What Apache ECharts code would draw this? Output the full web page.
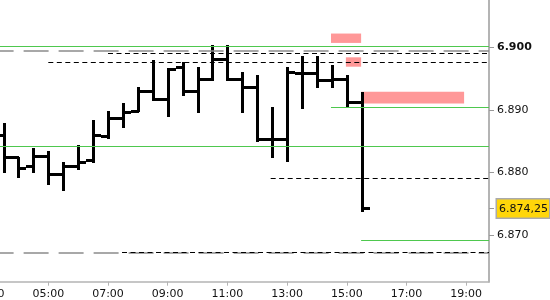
<!DOCTYPE html>
<html><head><meta charset="utf-8">
<script src="https://cdn.jsdelivr.net/npm/echarts@6/dist/echarts.min.js"></script>
<style>html,body{margin:0;padding:0;background:#fff}#c{width:550px;height:300px}</style>
</head><body><div id="c"></div><script>
// 30-minute OHLC bars (time in hours)
const times=[3.5,4,4.5,5,5.5,6,6.5,7,7.5,8,8.5,9,9.5,10,10.5,11,11.5,12,12.5,13,13.5,14,14.5,15,15.5];
const opens=[6886.0,6882.4,6881.1,6882.7,6879.8,6881.0,6882.0,6885.8,6888.7,6889.9,6893.0,6891.8,6896.9,6893.0,6895.0,6898.1,6895.0,6893.7,6885.3,6885.3,6895.9,6895.9,6894.7,6895.0,6891.3];
const highs=[6887.9,6882.5,6883.9,6883.4,6881.6,6884.4,6888.4,6889.8,6891.1,6893.6,6898.0,6896.7,6897.7,6896.8,6900.4,6900.4,6896.0,6895.6,6890.4,6896.9,6898.6,6898.6,6897.2,6895.6,6892.9];
const lows=[6880.1,6879.3,6880.0,6878.2,6877.2,6880.5,6881.7,6885.5,6887.2,6889.8,6891.6,6889.1,6892.3,6889.7,6894.8,6894.8,6889.6,6885.0,6882.5,6881.9,6890.3,6893.6,6893.6,6890.5,6873.9];
const closes=[6882.4,6880.7,6882.7,6879.8,6881.1,6881.7,6886.0,6888.7,6889.7,6893.0,6891.8,6896.6,6893.0,6894.9,6898.1,6895.0,6893.7,6885.3,6885.3,6896.1,6895.9,6894.7,6895.0,6891.3,6874.25];
const xTickHours=[3,5,7,9,11,13,15,17,19];
const yTicks=[6870,6880,6890,6900];
const lastPrice=6874.25;
// horizontal levels
const greenFull=[6900.2,6884.2];
const greenPartial=[[6890.4,14.47],[6869.2,15.48]];      // [value, start hour]
const grayLongDash=[6899.4,6867.2];
const blackShortDash=[[6899.0,7.0],[6897.6,5.0],[6879.1,12.45],[6867.2,7.47]]; // [value, start hour]
const pinkZones=[[14.47,15.48,6900.7,6902.2],[14.97,15.48,6896.9,6898.4],[15.48,18.93,6891.0,6892.9]];

const xMin=3, xMax=19.764, yMin=6862.54, yMax=6907.56;
const pad=n=>String(n).padStart(2,'0');
const fmtY=v=>{
  const ip=Math.floor(v), th=Math.floor(ip/1000), rest=ip%1000;
  let s=th+'.'+String(rest).padStart(3,'0');
  const frac=Math.round((v-ip)*100);
  if(frac) s+=','+pad(frac);
  return s;
};
const FONT='DejaVu Sans';
const GREEN='#4ec84e', PINK='#ff9898', GRAY='#8c8c8c';

const ml=[];
greenFull.forEach(v=>ml.push([{coord:[xMin,v],lineStyle:{color:GREEN,width:1,type:'solid'}},{coord:[xMax,v]}]));
greenPartial.forEach(([v,s])=>ml.push([{coord:[s,v],lineStyle:{color:GREEN,width:1,type:'solid'}},{coord:[xMax,v]}]));
grayLongDash.forEach(v=>ml.push([{coord:[xMin,v],lineStyle:{color:GRAY,width:1.5,type:[25,10]}},{coord:[xMax,v]}]));
blackShortDash.forEach(([v,s])=>ml.push([{coord:[s,v],lineStyle:{color:'#000',width:1,type:[5,3.5]}},{coord:[xMax,v]}]));

const ma=pinkZones.map(([a,b,lo,hi])=>[{coord:[a,hi],itemStyle:{color:PINK,opacity:1}},{coord:[b,lo]}]);

const data=times.map((t,i)=>[t,opens[i],highs[i],lows[i],closes[i]]);

const chart=echarts.init(document.getElementById('c'),null,{renderer:'canvas'});
chart.setOption({
  animation:false,
  backgroundColor:'#fff',
  grid:{left:-11.4,right:61,top:0,bottom:18.3,outerBoundsMode:'none',containLabel:false},
  xAxis:{type:'value',min:xMin,max:xMax,
    axisLine:{show:true,onZero:false,lineStyle:{color:'#b4b4b4',width:1.5}},
    axisTick:{show:true,length:4,customValues:xTickHours,lineStyle:{color:'#b4b4b4'}},
    splitLine:{show:false},
    axisLabel:{customValues:xTickHours,margin:7,fontFamily:FONT,fontSize:11,color:'#111',
      formatter:v=>pad(Math.round(v))+':00'}},
  yAxis:{type:'value',position:'right',min:yMin,max:yMax,splitLine:{show:false},
    axisLine:{show:true,lineStyle:{color:'#b4b4b4',width:2}},
    axisTick:{show:true,length:5,customValues:[...yTicks,lastPrice],lineStyle:{color:'#999'}},
    axisLabel:{customValues:[...yTicks,lastPrice],margin:8,fontFamily:FONT,fontSize:11,color:'#111',
      formatter:v=>{
        if(Math.abs(v-lastPrice)<1e-6) return '{p|'+fmtY(v)+'}';
        if(Math.abs(v-6900)<1e-6) return '{b|'+fmtY(v)+'}';
        return fmtY(v);
      },
      rich:{
        b:{fontFamily:FONT,fontSize:11,fontWeight:'bold',color:'#111'},
        p:{fontFamily:FONT,fontSize:11,color:'#111',backgroundColor:'#ffd60a',borderColor:'#aaaaaa',borderWidth:1.5,padding:[4,1,3,2]}
      }}},
  series:[
    {type:'line',data:[],silent:true,z:1,
      markArea:{silent:true,data:ma},
      markLine:{silent:true,symbol:['none','none'],label:{show:false},emphasis:{disabled:true},data:ml}},
    {type:'custom',z:3,silent:true,data:data,encode:{x:0,y:[1,2,3,4]},
      renderItem:(params,api)=>{
        const t=api.value(0);
        const o=api.coord([t,api.value(1)]),h=api.coord([t,api.value(2)]),
              l=api.coord([t,api.value(3)]),c=api.coord([t,api.value(4)]);
        const cx=Math.round(o[0]);
        return {type:'group',children:[
          {type:'rect',shape:{x:cx-1,y:Math.round(h[1]),width:3,height:Math.round(l[1])-Math.round(h[1])+1},style:{fill:'#000'}},
          {type:'rect',shape:{x:cx-7,y:Math.round(o[1])-1,width:8,height:3},style:{fill:'#000'}},
          {type:'rect',shape:{x:cx+1,y:Math.round(c[1])-1,width:7,height:3},style:{fill:'#000'}}
        ]};
      }}
  ]
});
</script></body></html>
